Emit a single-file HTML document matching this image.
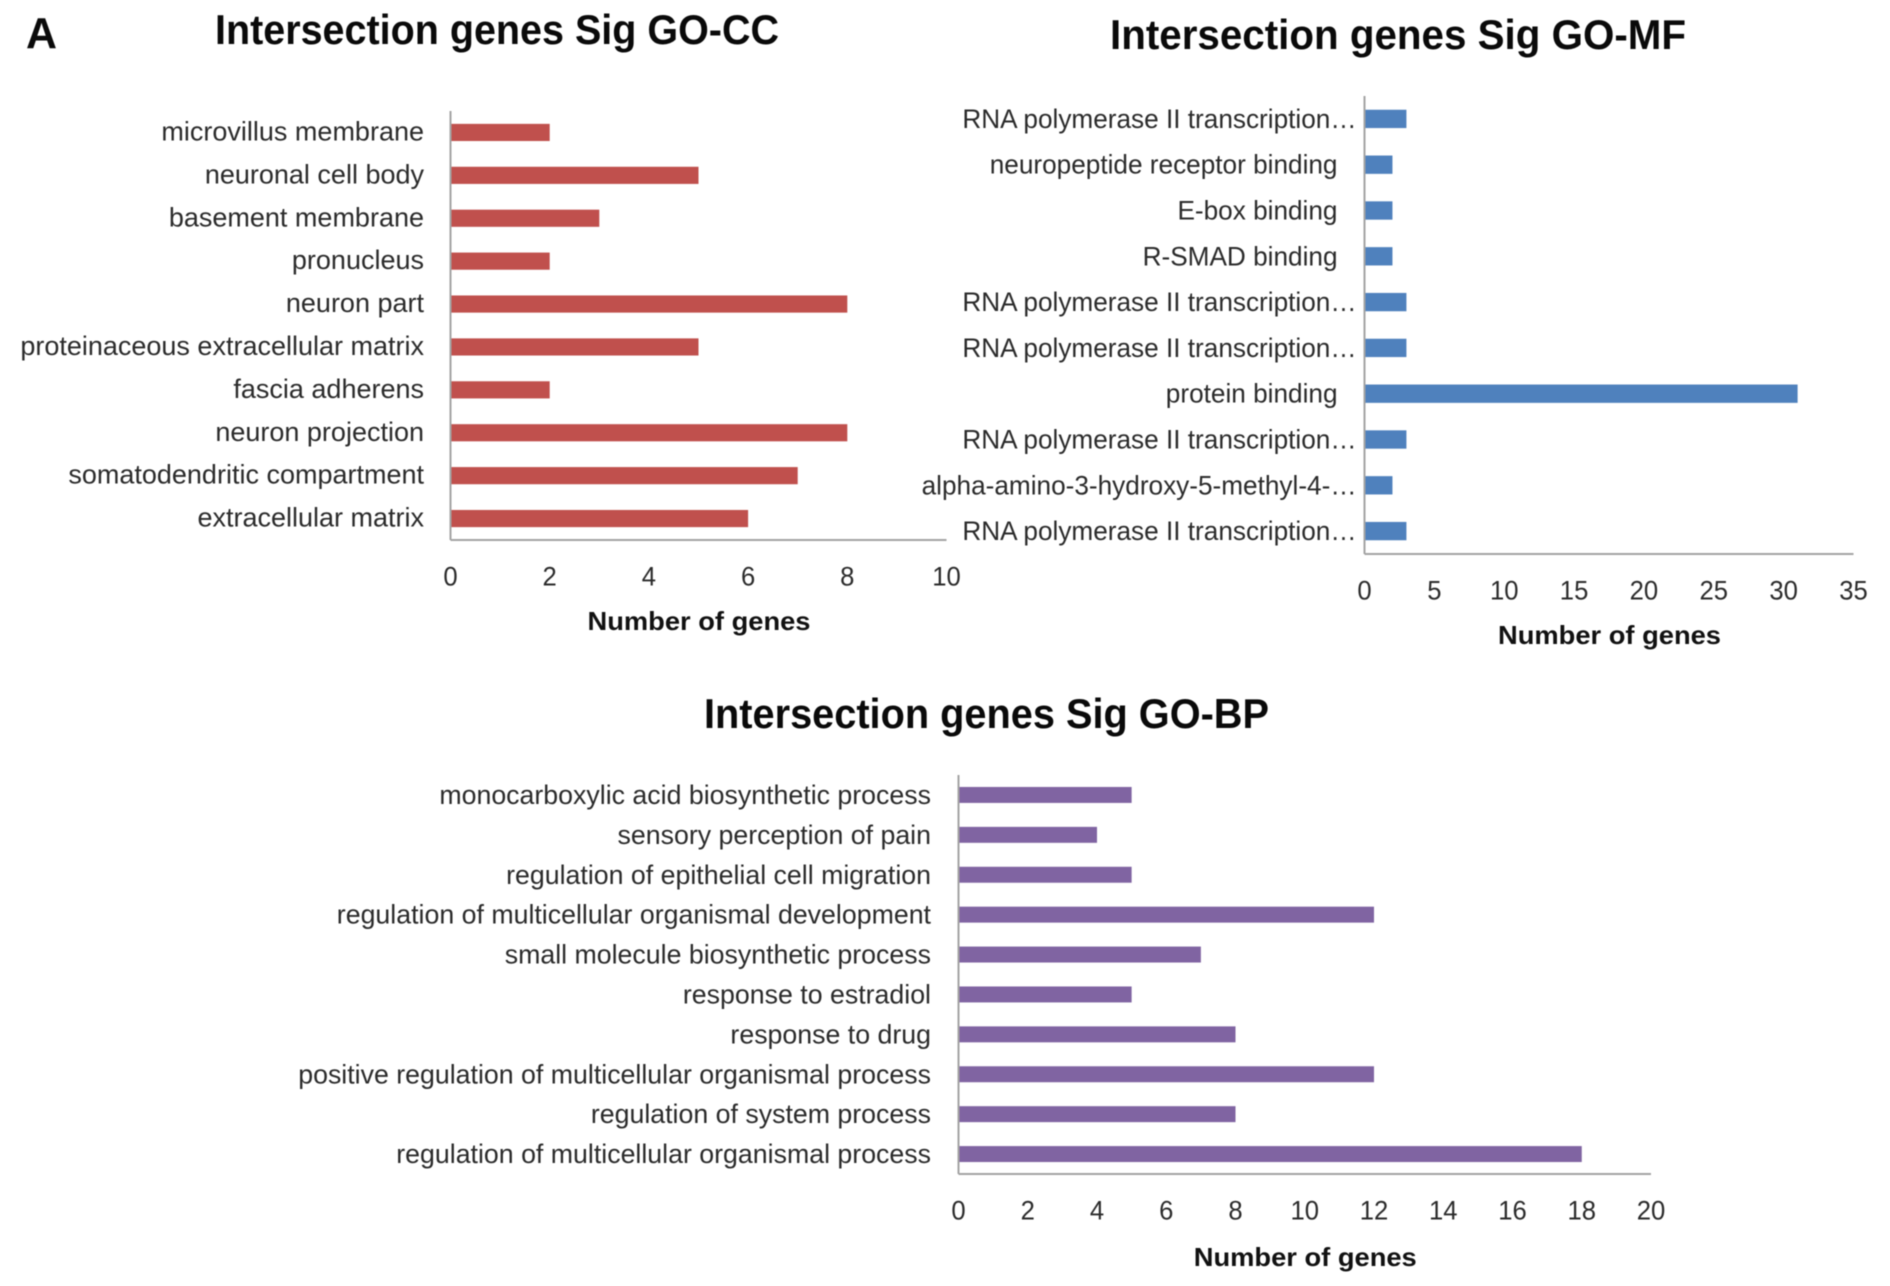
<!DOCTYPE html>
<html lang="en">
<head>
<meta charset="utf-8">
<title>Intersection genes Sig GO charts</title>
<style>
  html, body { margin: 0; padding: 0; background: #fff; }
  #figure { display: block; filter: blur(0.6px); }
  text { font-family: "Liberation Sans", sans-serif; fill: #2b2b2b; }
  .title { font-weight: bold; fill: #0a0a0a; }
  .axis-title { font-weight: bold; fill: #111; }
</style>
</head>
<body>
<svg id="figure" xmlns="http://www.w3.org/2000/svg" width="1890" height="1286" viewBox="0 0 1890 1286">
  <rect width="1890" height="1286" fill="#ffffff"/>
  <text class="title" x="26" y="48" font-size="44" textLength="31" lengthAdjust="spacingAndGlyphs">A</text>
</svg>
<script>
const ccCategories = ["microvillus membrane", "neuronal cell body", "basement membrane", "pronucleus", "neuron part", "proteinaceous extracellular matrix", "fascia adherens", "neuron projection", "somatodendritic compartment", "extracellular matrix"];
const ccValues = [2, 5, 3, 2, 8, 5, 2, 8, 7, 6];
const ccTicks = [0, 2, 4, 6, 8, 10];

const mfCategories = ["RNA polymerase II transcription…", "neuropeptide receptor binding", "E-box binding", "R-SMAD binding", "RNA polymerase II transcription…", "RNA polymerase II transcription…", "protein binding", "RNA polymerase II transcription…", "alpha-amino-3-hydroxy-5-methyl-4-…", "RNA polymerase II transcription…"];
const mfValues = [3, 2, 2, 2, 3, 3, 31, 3, 2, 3];
const mfTicks = [0, 5, 10, 15, 20, 25, 30, 35];

const bpCategories = ["monocarboxylic acid biosynthetic process", "sensory perception of pain", "regulation of epithelial cell migration", "regulation of multicellular organismal development", "small molecule biosynthetic process", "response to estradiol", "response to drug", "positive regulation of multicellular organismal process", "regulation of system process", "regulation of multicellular organismal process"];
const bpValues = [5, 4, 5, 12, 7, 5, 8, 12, 8, 18];
const bpTicks = [0, 2, 4, 6, 8, 10, 12, 14, 16, 18, 20];

const SVG_NS = "http://www.w3.org/2000/svg";
const figure = document.getElementById("figure");

function drawChart(categories, values, ticks, titleText, layout) {
  const chart = document.createElementNS(SVG_NS, "g");
  
  
  figure.appendChild(chart);

  const maxTick = ticks[ticks.length - 1];
  const xScale = v => layout.left + (v / maxTick) * (layout.right - layout.left);
  const band = (layout.bottom - layout.top) / categories.length;
  const yScale = i => layout.top + band * (i + 0.5);
  const barHeight = band * 0.4;

  const title = document.createElementNS(SVG_NS, "text");
  
  
  title.setAttribute("class", "title");
  title.setAttribute("x", layout.titleX);
  title.setAttribute("y", layout.titleY);
  title.setAttribute("font-size", "42");
  title.setAttribute("textLength", layout.titleW);
  title.setAttribute("lengthAdjust", "spacingAndGlyphs");
  title.textContent = titleText;
  chart.appendChild(title);

  categories.forEach((cat, i) => {
    const bar = document.createElementNS(SVG_NS, "rect");
    
    
    bar.setAttribute("x", xScale(0));
    bar.setAttribute("y", yScale(i) - barHeight / 2);
    bar.setAttribute("width", xScale(values[i]) - xScale(0));
    bar.setAttribute("height", barHeight);
    bar.setAttribute("fill", layout.color);
    chart.appendChild(bar);

    const label = document.createElementNS(SVG_NS, "text");
    
    
    const lx = layout.labelRight + (cat.endsWith("…") ? layout.ellipsisShift : 0);
    label.setAttribute("transform", "translate(" + lx + "," + (yScale(i) + layout.labelDrop) + ") scale(" + layout.labelScale + ",1)");
    label.setAttribute("text-anchor", "end");
    label.setAttribute("font-size", "27");
    label.textContent = cat;
    chart.appendChild(label);
  });

  const yAxis = document.createElementNS(SVG_NS, "line");
  
  
  yAxis.setAttribute("x1", layout.left);
  yAxis.setAttribute("x2", layout.left);
  yAxis.setAttribute("y1", layout.top);
  yAxis.setAttribute("y2", layout.bottom);
  yAxis.setAttribute("stroke", "#a3a3a3");
  yAxis.setAttribute("stroke-width", "2");
  chart.appendChild(yAxis);

  const xAxis = document.createElementNS(SVG_NS, "line");
  
  
  xAxis.setAttribute("x1", layout.left);
  xAxis.setAttribute("x2", layout.right);
  xAxis.setAttribute("y1", layout.bottom);
  xAxis.setAttribute("y2", layout.bottom);
  xAxis.setAttribute("stroke", "#a3a3a3");
  xAxis.setAttribute("stroke-width", "2");
  chart.appendChild(xAxis);

  ticks.forEach(t => {
    const tick = document.createElementNS(SVG_NS, "text");
    
    
    tick.setAttribute("transform", "translate(" + xScale(t) + "," + (layout.bottom + 45.5) + ") scale(0.95,1)");
    tick.setAttribute("text-anchor", "middle");
    tick.setAttribute("font-size", "27");
    tick.textContent = t;
    chart.appendChild(tick);
  });

  const axisTitle = document.createElementNS(SVG_NS, "text");
  
  
  axisTitle.setAttribute("class", "axis-title");
  axisTitle.setAttribute("x", (layout.left + layout.right) / 2 - 111);
  axisTitle.setAttribute("y", layout.axisTitleY);
  axisTitle.setAttribute("font-size", "26");
  axisTitle.setAttribute("textLength", "223");
  axisTitle.setAttribute("lengthAdjust", "spacingAndGlyphs");
  axisTitle.textContent = "Number of genes";
  chart.appendChild(axisTitle);
}

drawChart(ccCategories, ccValues, ccTicks, "Intersection genes Sig GO-CC", {
  name: "go-cc-chart", color: "#C0504D",
  left: 450.5, right: 946.5, top: 111, bottom: 540,
  labelRight: 424, ellipsisShift: 0, labelScale: 1, labelDrop: 8,
  titleX: 215, titleY: 44, titleW: 564, axisTitleY: 630
});
drawChart(mfCategories, mfValues, mfTicks, "Intersection genes Sig GO-MF", {
  name: "go-mf-chart", color: "#4F81BD",
  left: 1364.5, right: 1853.5, top: 96, bottom: 554,
  labelRight: 1337.5, ellipsisShift: 19, labelScale: 0.97, labelDrop: 9,
  titleX: 1110, titleY: 49, titleW: 576, axisTitleY: 644
});
drawChart(bpCategories, bpValues, bpTicks, "Intersection genes Sig GO-BP", {
  name: "go-bp-chart", color: "#8064A2",
  left: 958.5, right: 1651, top: 775, bottom: 1174,
  labelRight: 931, ellipsisShift: 0, labelScale: 0.99, labelDrop: 9,
  titleX: 704, titleY: 728, titleW: 565, axisTitleY: 1266
});
</script>
</body>
</html>
